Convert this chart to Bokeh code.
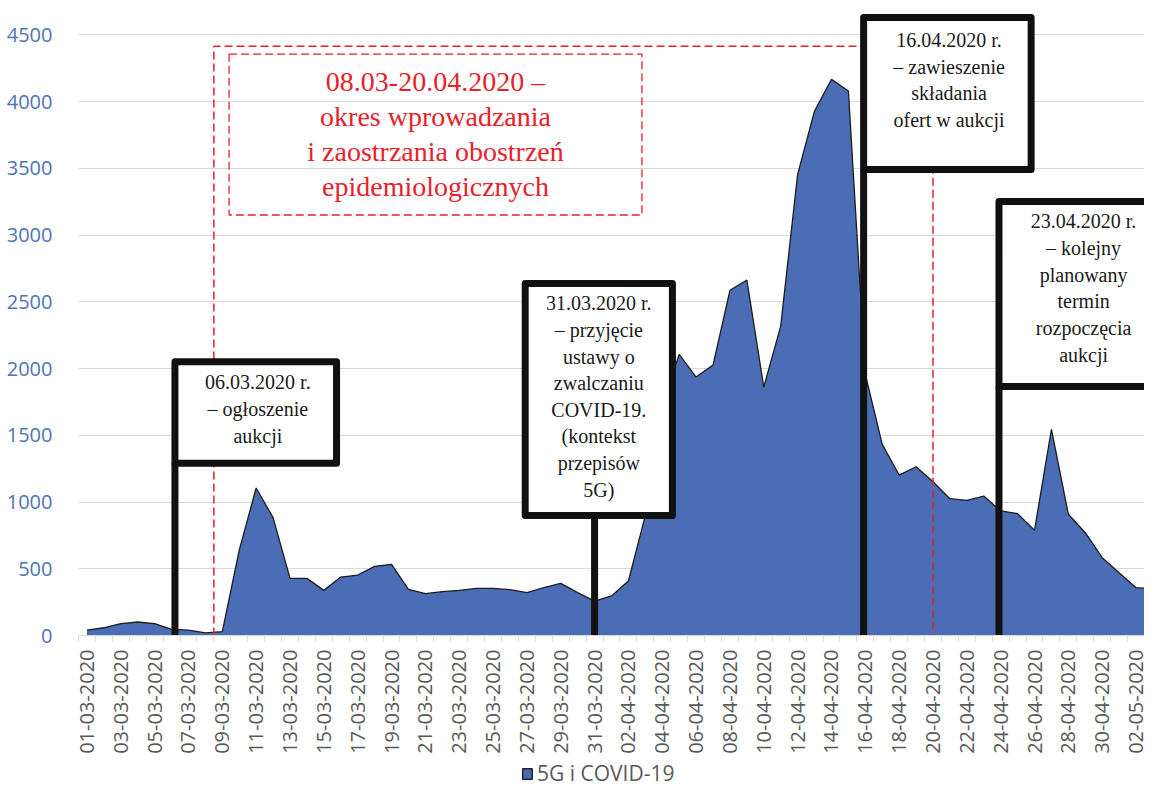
import numpy as np
from bokeh.plotting import figure
from bokeh.layouts import column
from bokeh.models import Range1d, FixedTicker, ColumnDataSource, Legend, LegendItem
from bokeh.core.properties import value
from bokeh.embed import file_html
from bokeh.resources import INLINE

# ---- data -------------------------------------------------------------
dates = ([f"{d:02d}-03-2020" for d in range(1, 32)]
         + [f"{d:02d}-04-2020" for d in range(1, 31)]
         + ["01-05-2020", "02-05-2020", "03-05-2020"])

counts = [40, 58, 89, 101, 89, 46, 41, 19, 29, 640,
          1105, 883, 428, 428, 338, 438, 453, 518, 533, 346,
          313, 328, 338, 353, 353, 343, 321, 358, 391, 321,
          258, 296, 408, 900, 1730, 2106, 1936, 2026, 2586, 2663,
          1861, 2318, 3455, 3929, 4166, 4079, 1957, 1432, 1202, 1264,
          1152, 1025, 1013, 1045, 933, 913, 788, 1545, 908, 770,
          583, 470, 358, 350]

series_name = "5G i COVID-19"
y_ticks = list(range(0, 4501, 500))

# annotation texts
period_text = "08.03-20.04.2020 –\nokres wprowadzania\ni zaostrzania obostrzeń\nepidemiologicznych"
callout_texts = [
    "06.03.2020 r.\n– ogłoszenie\naukcji",
    "31.03.2020 r.\n– przyjęcie\nustawy o\nzwalczaniu\nCOVID-19.\n(kontekst\nprzepisów\n5G)",
    "16.04.2020 r.\n– zawieszenie\nskładania\nofert w aukcji",
    "23.04.2020 r.\n– kolejny\nplanowany\ntermin\nrozpoczęcia\naukcji",
]

# ---- layout helpers (positions in day index / value units) -------------
idx = list(range(len(dates)))
period_left, period_right, period_top = 7.5, 50.0, 4415
inner_box = dict(left=8.4, right=32.8, bottom=3150, top=4356)
period_text_pos = (20.6, 3757)

box_left = [5.2, 25.9, 45.9, 53.9]
box_right = [14.75, 34.6, 55.8, 63.4]
box_bottom = [1290, 899, 3491, 1865]
box_top = [2050, 2637, 4629, 3251]
stem_x = [5.2, 30.0, 45.9, 53.9]
text_x = [10.1, 30.25, 50.95, 58.9]
text_y = [1697, 1790, 4161, 2603]

blue = "#4a6db5"

p = figure(width=1144, height=762, output_backend="svg", toolbar_location=None,
           x_range=Range1d(-0.5, 62.5), y_range=Range1d(0, 4757),
           min_border_left=78, min_border_right=0, min_border_top=0,
           min_border_bottom=127)
p.outline_line_color = None
p.background_fill_color = "white"

# grid
p.xgrid.visible = False
p.ygrid.ticker = FixedTicker(ticks=y_ticks)
p.ygrid.grid_line_color = "#d9d9d9"
p.ygrid.grid_line_width = 1

# y axis
p.yaxis.ticker = FixedTicker(ticks=y_ticks)
p.yaxis.axis_line_color = None
p.yaxis.major_tick_line_color = None
p.yaxis.minor_tick_line_color = None
p.yaxis.major_label_text_color = "#4f73b8"
p.yaxis.major_label_text_font = "Open Sans"
p.yaxis.major_label_text_font_size = "20px"
p.yaxis.major_label_standoff = 20

# x axis
p.xaxis.ticker = FixedTicker(ticks=idx[::2], minor_ticks=[i - 0.5 for i in range(len(dates) + 1)])
p.xaxis.major_label_overrides = {i: dates[i] for i in idx[::2]}
p.xaxis.major_label_orientation = np.pi / 2
p.xaxis.major_tick_line_color = None
p.xaxis.major_tick_out = 0
p.xaxis.major_tick_in = 0
p.xaxis.minor_tick_out = 6
p.xaxis.minor_tick_in = 0
p.xaxis.minor_tick_line_color = "#d9d9d9"
p.xaxis.axis_line_color = "#d9d9d9"
p.xaxis.major_label_text_color = "#595959"
p.xaxis.major_label_text_font = "Open Sans"
p.xaxis.major_label_text_font_size = "20px"
p.xaxis.major_label_standoff = 8

# area
src = ColumnDataSource(dict(x=idx, v=counts))
p.varea(x="x", y1=0, y2="v", source=src, fill_color=blue)
p.line(x="x", y="v", source=src, line_color="#1c1c1c", line_width=1.3)

# red dashed period frame
red = "#e8212b"
p.line(x=[period_left, period_left, period_right, period_right],
       y=[0, period_top, period_top, 0],
       line_color=red, line_dash="8 4", line_width=1.5)
p.quad(left=[inner_box["left"]], right=[inner_box["right"]],
       bottom=[inner_box["bottom"]], top=[inner_box["top"]],
       fill_alpha=0, line_color=red, line_dash="8 4", line_width=1.3)
p.text(x=[period_text_pos[0]], y=[period_text_pos[1]], text=[period_text],
       text_font=value("Liberation Serif"), text_font_size="28px",
       text_color=red, text_align="center", text_baseline="middle",
       text_line_height=1.13)

# black callouts
p.segment(x0=stem_x, y0=[0] * 4, x1=stem_x, y1=box_bottom,
          line_color="#111111", line_width=7)
p.quad(left=box_left, right=box_right, bottom=box_bottom, top=box_top,
       fill_color="white", line_color="#111111", line_width=7, line_join="round")
p.text(x=text_x, y=text_y, text=callout_texts,
       text_font=value("Liberation Serif"), text_font_size="20px",
       text_color="#1a1a1a", text_align="center", text_baseline="middle",
       text_line_height=1.21)

# legend strip below the chart
lf = figure(width=1144, height=25, output_backend="svg", toolbar_location=None,
            x_range=Range1d(0, 1), y_range=Range1d(0, 1), min_border=0)
lf.axis.visible = False
lf.grid.visible = False
lf.outline_line_color = None
swatch = lf.quad(left=[-5], right=[-4], bottom=[-5], top=[-4], fill_color=blue,
                 line_color="#222222", line_width=1.5)
legend = Legend(items=[LegendItem(label=series_name, renderers=[swatch])],
                location=(443, 0), orientation="horizontal",
                label_text_font="Open Sans", label_text_font_size="21px",
                label_text_color="#595959", border_line_color=None,
                background_fill_alpha=0, glyph_width=12, glyph_height=13,
                padding=0, margin=0, spacing=0, label_standoff=4,
                label_height=20)
lf.add_layout(legend)

open("out.html", "w").write(file_html(column(p, lf), INLINE))
